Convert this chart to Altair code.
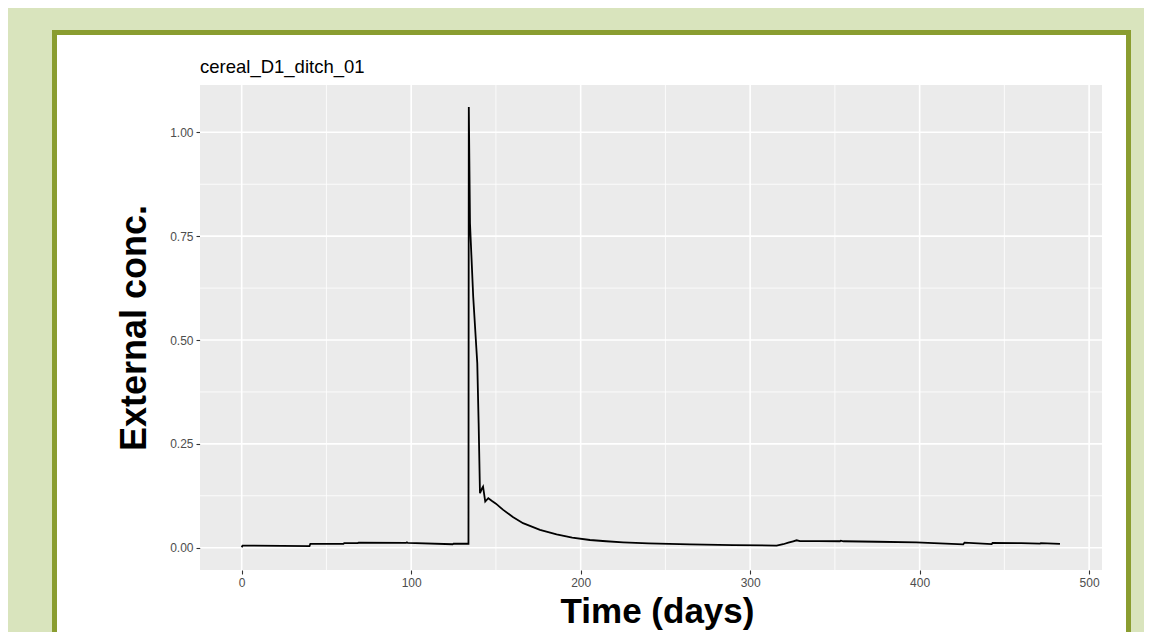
import altair as alt
import pandas as pd

# ---- data ----
days = [0, 0.5, 40, 40.5, 60, 60.5, 68.5, 69, 97, 97.5, 98, 124.5, 125, 133.8,
        134.0, 134.7, 136.6, 139.0, 139.8, 140.6, 141.8, 142.4, 143.7, 145.5, 147.5,
        150, 154.3, 160, 166, 176, 185.8, 195, 205.5, 215, 225, 240, 264.5, 290,
        315.6, 319.5, 322.5, 325.4, 327.4, 329.4, 340, 353, 353.5, 355, 375, 398,
        425.7, 426.5, 442.5, 443, 460, 471, 471.5, 482.8]
conc = [0.001, 0.005, 0.004, 0.009, 0.009, 0.011, 0.011, 0.012, 0.0115, 0.013, 0.0115,
        0.0083, 0.0095, 0.0095,
        1.061, 0.781, 0.604, 0.444, 0.30, 0.131, 0.143, 0.147, 0.111, 0.119, 0.113,
        0.106, 0.091, 0.074, 0.059, 0.043, 0.032, 0.024, 0.0185, 0.0155, 0.013, 0.0105,
        0.0082, 0.0062,
        0.005, 0.0083, 0.012, 0.0154, 0.0178, 0.016, 0.0158, 0.0155, 0.0168, 0.0155,
        0.0143, 0.013, 0.0082, 0.012, 0.0085, 0.0115, 0.011, 0.0098, 0.0108, 0.009]

x_major = [0, 100, 200, 300, 400, 500]
x_minor = [50, 150, 250, 350, 450]
y_major = [0.0, 0.25, 0.5, 0.75, 1.0]
y_minor = [0.125, 0.375, 0.625, 0.875]

title_text = "cereal_D1_ditch_01"
x_title = "Time (days)"
y_title = "External conc."

# ---- style ----
W, H = 902, 485
PAD_L, PAD_T = 192, 77
TOTAL_W, TOTAL_H = 1136, 624
FONT = "Liberation Sans"
GREEN_BG = "#d9e4bd"
OLIVE = "#8a9d30"
PANEL = "#ebebeb"

xs = alt.Scale(domain=[-24.6, 507.6], nice=False, zero=False)
ys = alt.Scale(domain=[-0.0537, 1.1139], nice=False, zero=False)

xa = alt.Axis(values=x_major, format="d", grid=False, domain=False,
              tickColor="#333333", tickSize=4, tickWidth=1.1,
              labelColor="#4d4d4d", labelFontSize=12, labelFont=FONT, labelPadding=3,
              labelFlush=False,
              title=x_title, titleFont=FONT, titleFontSize=35, titleFontWeight="bold",
              titleColor="black", titleX=457, titleY=52, titleAlign="center",
              titleBaseline="alphabetic", titleAngle=0)
ya = alt.Axis(values=y_major, format=".2f", grid=False, domain=False,
              tickColor="#333333", tickSize=4, tickWidth=1.1,
              labelColor="#4d4d4d", labelFontSize=12, labelFont=FONT, labelPadding=3,
              labelFlush=False,
              title=y_title, titleFont=FONT, titleFontSize=36, titleFontWeight="bold",
              titleColor="black", titleX=-55, titleY=H / 2, titleAlign="center",
              titleBaseline="alphabetic", titleAngle=270)

one = pd.DataFrame({"k": [0]})

def deco_rect(x1, x2, y1, y2, **kw):
    return alt.Chart(one).mark_rect(**kw).encode(
        x=alt.value(x1), x2=alt.value(x2), y=alt.value(y1), y2=alt.value(y2))

green_top = deco_rect(-210, 970, -90, -55, color=GREEN_BG)
green_left = deco_rect(-210, -148, -90, 700, color=GREEN_BG)
green_right = deco_rect(931, 970, -90, 700, color=GREEN_BG)
border = deco_rect(-145.5, 928.5, -52.5, 720, fillOpacity=0, stroke=OLIVE, strokeWidth=5)

vmin = alt.Chart(pd.DataFrame({"xv": x_minor})).mark_rule(color="white", strokeWidth=0.8).encode(
    x=alt.X("xv:Q", scale=xs, axis=xa))
vmaj = alt.Chart(pd.DataFrame({"xv": x_major})).mark_rule(color="white", strokeWidth=1.6).encode(
    x=alt.X("xv:Q", scale=xs, axis=xa))
hmin = alt.Chart(pd.DataFrame({"yv": y_minor})).mark_rule(color="white", strokeWidth=0.8).encode(
    y=alt.Y("yv:Q", scale=ys, axis=ya))
hmaj = alt.Chart(pd.DataFrame({"yv": y_major})).mark_rule(color="white", strokeWidth=1.6).encode(
    y=alt.Y("yv:Q", scale=ys, axis=ya))

df = pd.DataFrame({"xv": days, "yv": conc})
line = alt.Chart(df).mark_line(color="black", strokeWidth=1.8).encode(
    x=alt.X("xv:Q", scale=xs, axis=xa),
    y=alt.Y("yv:Q", scale=ys, axis=ya))

title_mark = alt.Chart(one).mark_text(
    text=title_text, align="left", baseline="alphabetic", font=FONT,
    fontSize=18.5, color="black").encode(x=alt.value(0), y=alt.value(-12.3))

chart = alt.layer(
    green_top, green_left, green_right, border,
    hmin, vmin, hmaj, vmaj, line, title_mark
).properties(
    width=W, height=H,
    autosize=alt.AutoSizeParams(type="none"),
    padding={"left": PAD_L, "top": PAD_T, "right": TOTAL_W - PAD_L - W,
             "bottom": TOTAL_H - PAD_T - H},
    background="white",
).configure_view(fill=PANEL, strokeWidth=0)

chart.save("out.html", embed_options={"renderer": "svg", "actions": False})
